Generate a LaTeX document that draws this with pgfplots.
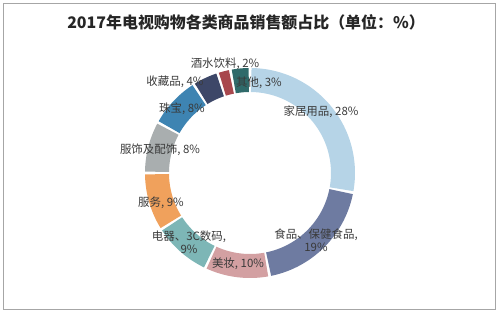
\documentclass[border=0pt]{standalone}
\usepackage{pgfplots}
\pgfplotsset{compat=1.18}
\usepackage{pgfplotstable}
\usepackage{fontspec}
\setmainfont{Liberation Sans}
\newfontfamily\cjk{Noto Sans CJK SC}
\definecolor{c0}{HTML}{B6D4E7}
\definecolor{c1}{HTML}{6E7BA1}
\definecolor{c2}{HTML}{D3A0A2}
\definecolor{c3}{HTML}{7DB6B6}
\definecolor{c4}{HTML}{F0A15C}
\definecolor{c5}{HTML}{A9AEAF}
\definecolor{c6}{HTML}{3E84B2}
\definecolor{c7}{HTML}{3D4768}
\definecolor{c8}{HTML}{A8474D}
\definecolor{c9}{HTML}{2F6A6A}
\definecolor{labeltext}{HTML}{3A3A3A}
\pgfplotstableread{
value
28
19
10
9
9
8
8
4
2
3
}\sharetable
\begin{document}
\begin{tikzpicture}
\useasboundingbox (0,0) rectangle (500bp,313bp);
\begin{axis}[at={(0,0)}, anchor=south west, x=1bp, y=1bp, scale only axis,
  xmin=0, xmax=500, ymin=-313, ymax=0, hide axis, clip=false]
\def\cum{0}
\pgfplotsforeachungrouped \i in {0,...,9}{%
  \pgfplotstablegetelem{\i}{value}\of\sharetable
  \pgfmathsetmacro{\a}{90-3.6*\cum-0.75}%
  \pgfmathsetmacro{\cum}{\cum+\pgfplotsretval}%
  \pgfmathsetmacro{\b}{90-3.6*\cum+0.75}%
  \edef\temp{\noexpand\addplot[draw=c\i, line width=24bp, line cap=butt, line join=round, domain=\b:\a, samples=60] ({250+93*cos(x)},{-173+93*sin(x)});}%
  \temp
}
\draw[black!35] (axis cs:3.5,-3.5) rectangle (axis cs:495.5,-309.5);
\node[font=\cjk\bfseries\fontsize{16}{18}\selectfont, text=black!85] at (axis cs:246,-22) {2017年电视购物各类商品销售额占比（单位：\%）};
\begin{scope}[every node/.style={font=\cjk\fontsize{11.5}{13}\selectfont, text=labeltext, align=center, inner sep=0pt}]
\node at (axis cs:321,-112) {家居用品, 28\%};
\node at (axis cs:259,-83) {其他, 3\%};
\node at (axis cs:225,-64) {酒水饮料, 2\%};
\node at (axis cs:175,-82) {收藏品, 4\%};
\node at (axis cs:182,-109) {珠宝, 8\%};
\node at (axis cs:160,-150) {服饰及配饰, 8\%};
\node at (axis cs:161,-203) {服务, 9\%};
\node at (axis cs:189,-242) {电器、3C数码,\\9\%};
\node at (axis cs:238,-264) {美妆, 10\%};
\node at (axis cs:316,-240) {食品、保健食品,\\19\%};
\end{scope}
\end{axis}
\end{tikzpicture}
\end{document}
